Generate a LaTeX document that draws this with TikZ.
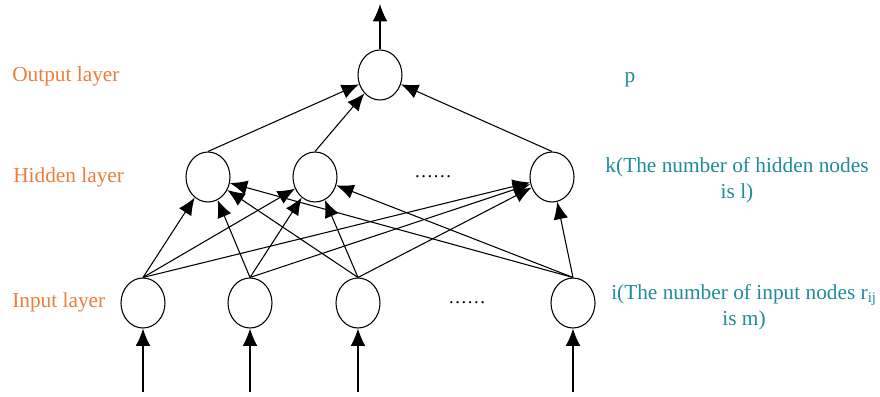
\documentclass[tikz,border=0pt]{standalone}
\usepackage{fontspec}
\setmainfont{Liberation Serif}
\usetikzlibrary{arrows.meta,shapes.geometric}
\definecolor{layorange}{RGB}{239,125,58}
\definecolor{infteal}{RGB}{30,140,155}

\begin{document}
\begin{tikzpicture}[x=0.75pt,y=-0.75pt,
  v/.style={ellipse,draw,line width=0.8pt,minimum width=33pt,minimum height=37.5pt,inner sep=0pt},
  w/.style={-{Latex[length=13pt,width=11pt]},line width=0.8pt},
  lay/.style={anchor=west,inner sep=0pt,text=layorange,font=\fontsize{16}{19.5}\selectfont},
  inf/.style={align=center,inner sep=0pt,text=infteal,font=\fontsize{16}{19.5}\selectfont},
  dots/.style={font=\fontsize{14}{17}\selectfont}]
\useasboundingbox (0,0) rectangle (880,396);
% neurons
\node[v] (o) at (380,75) {};
\node[v] (h1) at (208,177) {};
\node[v] (h2) at (315,177) {};
\node[v] (h3) at (552,177) {};
\node[v] (i1) at (143,303) {};
\node[v] (i2) at (250,303) {};
\node[v] (i3) at (358,303) {};
\node[v] (i4) at (573,303) {};
\node[dots] (hd) at (433,177) {……};
\node[dots] (id) at (467,303) {……};
% weights
\foreach \a in {1,2,3,4}\foreach \b in {1,2,3}\draw[w] (i\a.north)--(h\b);
\foreach \b in {1,2,3}\draw[w] (h\b.north)--(o);
\coordinate (out) at (380,4);
\draw[w] (o.north)--(out);
\foreach \a/\x in {1/143,2/250,3/358,4/573}{
  \coordinate (s\a) at (\x,392);
  \draw[w] (s\a)--(i\a.south);}
% labels
\node[lay] (lo) at (12,76) {Output layer};
\node[lay] (lh) at (13,177) {Hidden layer};
\node[lay] (li) at (12,302) {Input layer};
\node[inf] (ro) at (630,80) {p};
\node[inf] (rh) at (737,180) {k(The number of hidden nodes\\is l)};
\node[inf] (ri) at (744,307) {i(The number of input nodes r\textsubscript{ij}\\is m)};
\end{tikzpicture}
\end{document}
